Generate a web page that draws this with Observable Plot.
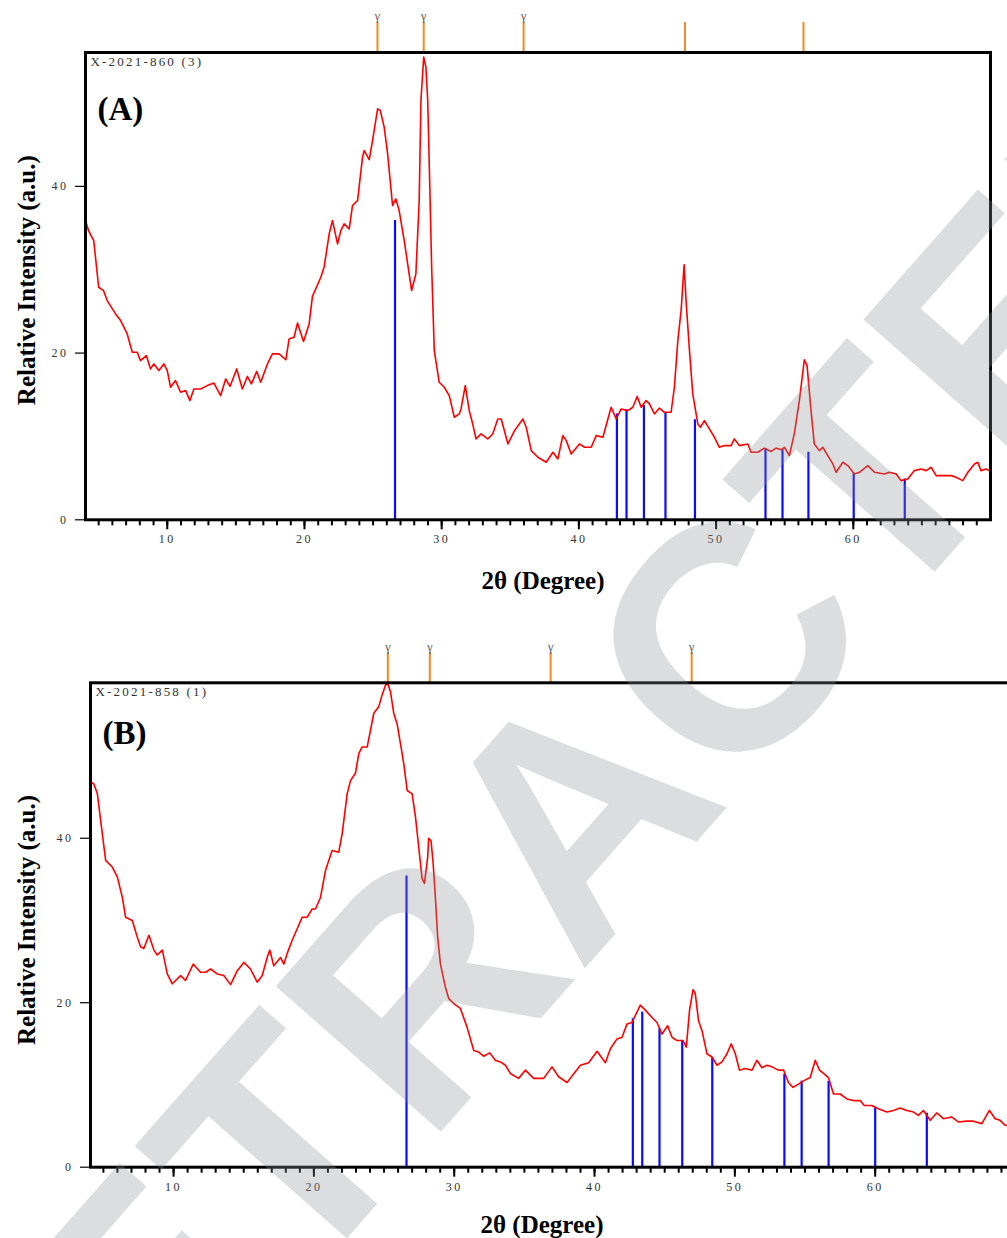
<!DOCTYPE html>
<html><head><meta charset="utf-8">
<script src="https://cdn.jsdelivr.net/npm/d3@7"></script>
<script src="https://cdn.jsdelivr.net/npm/@observablehq/plot@0.6"></script>
<style>
html,body{margin:0;padding:0;background:#fff;overflow:hidden;width:1007px;height:1238px;}
#wrap{position:relative;width:1007px;height:1238px;overflow:hidden;background:#fff;}
#pa{position:absolute;left:0;top:0;}
#pb{position:absolute;left:0;top:620px;width:1032px;}
#pa svg,#pb svg{max-width:none !important;}
#wm{position:absolute;left:0;top:0;pointer-events:none;}
[aria-label="x-axis tick label"] text,[aria-label="y-axis tick label"] text{letter-spacing:2.5px;}
</style></head><body>
<div id="wrap"><div id="pa"></div><div id="pb"></div><svg id="wm" width="1007" height="1238"></svg></div>
<script>
// ---- Panel A data ----
const xA = [4.04,4.26,4.64,5.0,5.35,5.62,6.23,6.6,7.08,7.45,7.81,8.05,8.47,8.78,9.02,9.39,9.75,10.0,10.24,10.6,10.97,11.34,11.65,11.94,12.43,12.92,13.4,13.89,14.26,14.57,15.06,15.47,15.84,16.13,16.52,16.81,17.3,17.66,18.15,18.64,18.88,19.24,19.49,19.93,20.34,20.58,21.19,21.43,21.8,22.04,22.41,22.65,22.89,23.26,23.5,23.87,24.23,24.35,24.72,24.96,25.33,25.52,25.81,26.06,26.42,26.66,26.9,27.27,27.52,27.81,28.12,28.36,28.49,28.69,28.85,28.98,29.1,29.27,29.46,29.82,30.19,30.55,30.92,31.28,31.41,31.72,32.01,32.26,32.5,32.87,33.36,33.72,34.09,34.34,34.83,35.31,35.92,36.16,36.53,37.01,37.62,38.11,38.47,38.83,39.08,39.44,40.04,40.41,40.9,41.26,41.75,42.35,42.72,43.08,43.57,43.93,44.25,44.54,44.9,45.14,45.51,45.87,46.23,46.72,46.96,47.21,47.45,47.67,47.81,48.06,48.3,48.67,48.86,49.15,49.51,49.88,50.24,50.6,51.09,51.33,51.7,52.31,52.55,53.04,53.52,54.0,54.37,54.73,54.98,55.34,55.7,56.07,56.43,56.63,56.92,57.16,57.53,57.78,58.14,58.51,58.75,59.24,59.6,60.08,60.45,61.06,61.54,62.27,62.64,63.12,63.48,63.97,64.45,64.94,65.31,65.67,66.04,66.64,67.13,67.49,67.98,68.35,68.83,69.07,69.31,69.68,69.92];
const yA = [35.9,34.7,33.5,27.9,27.5,26.3,24.7,23.9,22.3,20.1,20.1,19.1,19.7,18.1,18.7,17.9,18.7,17.9,15.9,16.7,15.3,15.5,14.3,15.7,15.7,16.1,16.4,14.9,16.9,16.0,18.1,15.7,17.2,16.3,17.8,16.5,18.7,19.9,19.9,19.2,21.7,21.9,23.6,21.4,23.5,26.8,29.1,30.3,34.3,35.9,33.1,34.7,35.5,34.9,37.7,38.3,43.5,44.3,43.2,45.5,49.3,49.1,47.1,43.9,37.7,38.5,37.1,33.5,30.7,27.5,29.5,38.3,50.4,55.5,54.3,50.4,42.3,30.3,20.3,16.5,15.9,14.9,12.3,12.7,13.3,16.1,13.1,11.5,9.7,10.3,9.7,10.3,12.1,12.1,9.1,10.7,12.1,11.1,8.3,7.5,6.9,8.1,7.3,10.1,9.5,7.9,9.1,8.7,8.7,10.1,9.9,13.5,12.1,13.3,13.1,13.5,14.8,13.5,14.3,13.9,12.7,13.4,12.9,12.9,15.9,21.5,25.1,30.6,26.3,20.3,15.1,11.5,11.1,11.9,10.9,9.9,8.7,8.9,8.9,9.7,8.9,9.1,8.1,8.1,8.6,8.2,8.6,8.4,8.7,7.7,10.3,14.3,19.2,18.5,13.1,9.1,8.3,8.7,7.7,6.7,5.7,6.9,6.5,5.5,5.7,6.5,5.7,5.5,5.7,5.5,4.7,4.9,5.9,6.1,5.9,6.3,5.3,5.3,5.3,5.1,4.7,5.7,6.7,6.9,5.9,6.1,5.9];
const stickXA = [26.6,42.77,43.47,44.74,46.31,48.46,53.6,54.84,56.73,60.03,63.75];
const stickHA = [35.9,12.7,13.2,13.7,12.9,12.0,8.5,8.4,8.1,5.6,4.9];
const markXA = [25.32,28.69,35.97,47.73,56.37];
const markLabelA = ["γ","γ","γ","",""];

// ---- Panel B data ----
const xB = [4.1,4.32,4.57,4.80,5.16,5.63,5.99,6.35,6.58,7.06,7.41,7.65,7.88,8.24,8.6,8.84,9.2,9.55,9.91,10.5,10.85,11.4,11.92,12.28,12.64,13.11,13.58,14.06,14.54,15.01,15.48,15.96,16.32,16.67,16.86,17.14,17.62,17.86,18.1,18.45,18.81,19.17,19.52,19.88,20.11,20.47,20.83,21.3,21.77,22.02,22.37,22.61,22.96,23.2,23.44,23.8,24.03,24.27,24.62,24.86,25.1,25.26,25.46,25.69,25.93,26.17,26.4,26.65,27.0,27.24,27.47,27.71,27.88,28.11,28.18,28.35,28.5,28.66,28.82,29.02,29.37,29.61,29.96,30.44,30.92,31.39,31.74,32.1,32.53,32.93,33.29,33.65,34.0,34.59,35.07,35.66,36.37,36.97,37.44,38.04,38.99,39.58,40.18,40.77,41.13,41.6,41.96,42.31,42.67,43.26,43.62,44.1,44.45,44.81,45.21,45.52,45.88,46.3,46.54,46.77,47.02,47.18,47.41,47.66,48.01,48.37,48.73,49.08,49.44,49.74,50.03,50.33,50.74,51.22,51.57,51.93,52.29,52.64,53.11,53.47,53.82,54.14,54.54,54.89,55.37,55.73,56.03,56.32,56.67,57.03,57.51,57.98,58.45,58.93,59.22,59.76,60.23,60.83,61.3,61.78,62.26,62.73,63.08,63.44,63.92,64.39,64.86,65.46,65.93,66.53,67.0,67.6,68.14,68.55,68.9,69.26,70.0];
const yB = [46.8,46.6,45.4,42.2,37.3,36.5,35.3,32.8,30.4,30.0,28.0,26.8,26.6,28.2,26.4,25.8,26.4,23.5,22.3,23.3,22.7,24.7,23.7,23.7,24.1,23.5,23.3,22.2,23.9,24.9,24.1,22.5,23.3,25.5,26.4,24.5,25.5,24.7,26.0,27.6,29.0,30.4,30.4,31.4,31.4,32.8,36.1,38.5,38.3,40.6,45.4,47.0,47.9,50.3,51.1,51.1,53.1,55.2,56.0,57.4,58.6,58.8,57.8,55.2,53.9,51.5,49.1,45.8,45.4,42.6,38.9,35.1,34.5,37.7,40.0,39.7,36.9,32.8,28.0,24.7,21.9,20.5,19.9,19.3,17.0,14.2,14.0,13.5,13.9,13.0,12.8,12.4,11.4,10.8,11.8,10.8,10.8,12.2,11.0,10.3,12.4,12.7,14.1,12.7,14.4,15.6,15.8,17.4,17.6,19.7,19.1,18.2,17.6,16.2,17.2,15.8,15.4,15.4,14.6,19.1,21.6,21.1,17.8,16.6,13.8,13.4,12.4,12.8,13.8,15.0,13.8,11.8,12.0,11.8,13.0,12.1,12.4,12.2,11.8,11.8,10.3,9.7,10.1,10.5,10.9,13.0,11.8,11.4,10.9,8.9,8.9,8.3,8.1,8.1,7.5,7.5,7.1,6.7,6.9,7.2,6.9,6.7,6.3,6.9,5.7,6.6,5.9,6.1,5.5,5.6,5.6,5.3,6.9,5.9,5.7,5.1,5.0];
const stickXB = [26.6,42.73,43.4,44.63,46.25,48.39,53.53,54.76,56.68,60.0,63.68];
const stickHB = [35.4,18.05,18.86,16.84,15.41,13.31,11.28,10.46,10.43,7.3,6.57];
const markXB = [25.27,28.26,36.87,46.92];
const markLabelB = ["γ","γ","γ","γ"];

// ---- shared labels ----
const yTicks = [0,20,40];
const xMajor = [10,20,30,40,50,60];
const xMinor = d3.range(5,70);
const yTitle = "Relative Intensity (a.u.)";
const xTitle = "2θ (Degree)";

const serif = "Liberation Serif, Times New Roman, serif";

function panel(o){
  const curve = o.xs.map((x,i)=>({x, y:o.ys[i]}));
  const sticks = o.sx.map((x,i)=>({x, h:o.sh[i]}));
  const marks = o.mx.map((x,i)=>({x, t:o.ml[i]}));
  const plotH = o.height - o.mt - o.mb;
  const ext = 30 * o.yDomain[1] / plotH;
  const yTop = o.yDomain[1];
  const svg = Plot.plot({
    width:o.width, height:o.height,
    marginLeft:o.ml0, marginRight:o.mr, marginTop:o.mt, marginBottom:o.mb,
    x:{domain:o.xDomain}, y:{domain:o.yDomain},
    style:{background:"transparent", overflow:"visible", maxWidth:"none"},
    marks:[
      Plot.ruleX(sticks,{x:"x", y1:0, y2:"h", stroke:"#0a0aff", strokeWidth:2.2}),
      Plot.line(curve,{x:"x", y:"y", stroke:"#ff0000", strokeWidth:1.6}),
      Plot.ruleX(marks,{x:"x", y1:yTop, y2:yTop+ext, stroke:"#f08a24", strokeWidth:2, clip:false}),
      Plot.text(marks.filter(d=>d.t),{x:"x", y:yTop+ext, text:"t", dy:-6, fontSize:12, fill:"#555", fontFamily:serif}),
      Plot.axisY(yTicks,{tickSize:10, tickPadding:7, strokeWidth:1.2, fontSize:12, fontFamily:serif, fill:"#333", label:null, tickFormat:d=>String(d)}),
      Plot.axisX(xMinor,{tickSize:6, strokeWidth:2, text:null, label:null}),
      Plot.axisX(xMajor,{tickSize:10, strokeWidth:2, tickPadding:5, fontSize:12, fontFamily:serif, fill:"#333", label:null, tickFormat:d=>String(d)}),
      Plot.frame({stroke:"#000", strokeWidth:3}),
      Plot.text([o.sample],{text:d=>d, frameAnchor:"top-left", textAnchor:"start", lineAnchor:"middle", dx:5, dy:9, fontSize:13, fontFamily:serif, fill:"#333"}),
      Plot.text([o.letter],{text:d=>d, frameAnchor:"top-left", textAnchor:"start", lineAnchor:"middle", dx:12, dy:o.letterDy, fontSize:33, fontWeight:"bold", fontFamily:serif, fill:"#000"}),
      Plot.text([yTitle],{text:d=>d, frameAnchor:"left", textAnchor:"middle", lineAnchor:"middle", rotate:-90, dx:o.yTitleDx, dy:o.yTitleDy, fontSize:25, fontWeight:"bold", fontFamily:serif, fill:"#000"}),
      Plot.text([xTitle],{text:d=>d, frameAnchor:"bottom", textAnchor:"middle", lineAnchor:"middle", dx:o.xTitleDx, dy:o.xTitleDy, fontSize:25, fontWeight:"bold", fontFamily:serif, fill:"#000"})
    ]
  });
  d3.select(svg).selectAll("text").filter(function(){ return this.textContent === o.sample; })
    .style("letter-spacing","2.2px");
  return svg;
}

document.getElementById("pa").append(panel({
  xs:xA, ys:yA, sx:stickXA, sh:stickHA, mx:markXA, ml:markLabelA,
  width:1007, height:620, ml0:85, mr:17, mt:52, mb:100.7,
  xDomain:[4.04,70.0], yDomain:[0,56.06],
  sample:"X-2021-860 (3)", letter:"(A)", letterDy:57,
  yTitleDx:-59, yTitleDy:-6, xTitleDx:5, xTitleDy:61
}));
document.getElementById("pb").append(panel({
  xs:xB, ys:yB, sx:stickXB, sh:stickHB, mx:markXB, ml:markLabelB,
  width:1032, height:618, ml0:90, mr:17, mt:62.3, mb:71.3,
  xDomain:[4.08,70.0], yDomain:[0,58.9],
  sample:"X-2021-858 (1)", letter:"(B)", letterDy:51,
  yTitleDx:-64, yTitleDy:-5, xTitleDx:-11, xTitleDy:58
}));

// ---- watermark ----
const wmText = "RETRACTED";
const fs = 320;
d3.select("#wm").append("text")
  .attr("transform","translate(570,812) rotate(-48.6)")
  .attr("y", 0.358*fs)
  .attr("text-anchor","middle")
  .attr("font-family","Liberation Sans, Arial, sans-serif")
  .attr("font-weight","bold")
  .attr("font-size",fs)
  .attr("fill","rgb(140,143,150)")
  .attr("fill-opacity",0.3)
  .text(wmText);
</script>
</body></html>
